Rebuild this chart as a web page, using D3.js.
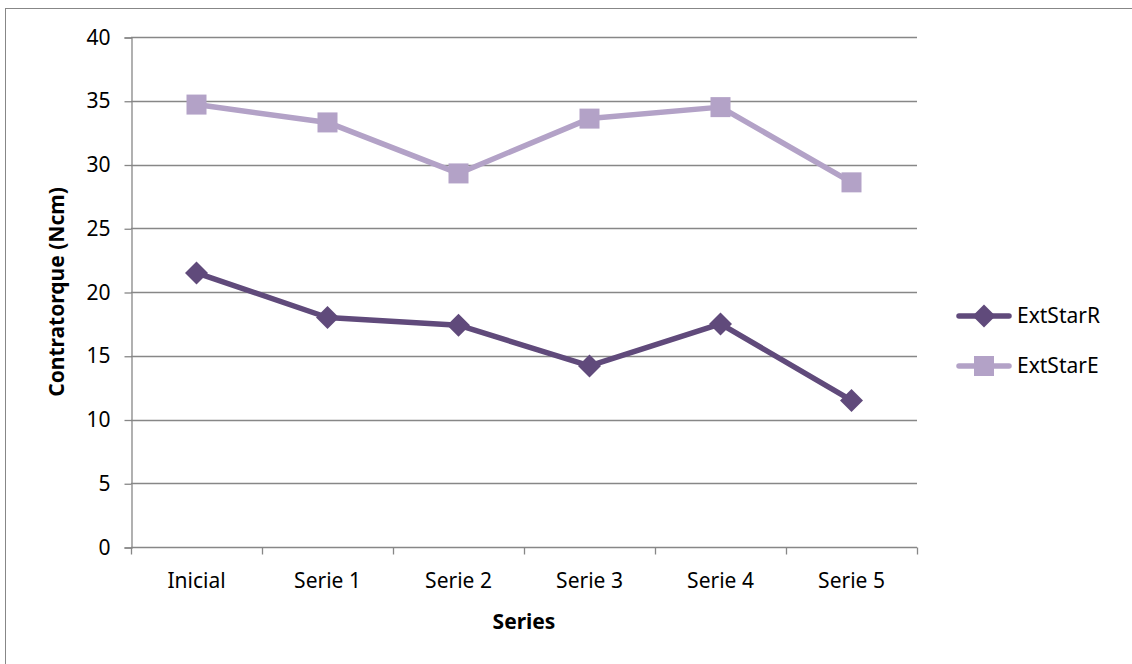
<html>
    <head>
        <meta charset="utf-8">
        <style>
            body { margin: 0; background: #fff; }
            text { font-family: "Noto Sans", sans-serif; fill: #000; }
        </style>
    </head>
    <body>
        <script src="https://d3js.org/d3.v7.min.js"></script>
        <div id="my_dataviz"></div>

        <script type='text/JavaScript'>
            var categories = ["Inicial", "Serie 1", "Serie 2", "Serie 3", "Serie 4", "Serie 5"];
            var extStarR = [21.5, 18.0, 17.4, 14.2, 17.5, 11.5];
            var extStarE = [34.7, 33.3, 29.3, 33.6, 34.5, 28.6];
            var yTicks = [0, 5, 10, 15, 20, 25, 30, 35, 40];

            var series = [
                {name: "ExtStarR", values: extStarR, color: "#604a7b", shape: "diamond"},
                {name: "ExtStarE", values: extStarE, color: "#b3a2c7", shape: "square"}
            ];

            var width = 1132, height = 664;
            var fs = "21px";
            var svg = d3.select("#my_dataviz").append("svg")
                .attr("width", width)
                .attr("height", height);

            // outer chart border (cropped on right/bottom in the original)
            svg.append("rect")
                .attr("x", 5.5).attr("y", 8.5)
                .attr("width", 1200).attr("height", 700)
                .attr("fill", "none")
                .attr("stroke", "#878787")
                .attr("stroke-width", 1);

            var xScale = d3.scaleBand().domain(categories).range([131, 917]);
            var yScale = d3.scaleLinear().domain([0, 40]).range([547, 37]);

            // gridlines
            svg.append("g")
                .selectAll("line")
                .data(yTicks.slice(1))
                .join("line")
                .attr("x1", 131).attr("x2", 917)
                .attr("y1", (d) => Math.round(yScale(d)) + 0.5)
                .attr("y2", (d) => Math.round(yScale(d)) + 0.5)
                .attr("stroke", "#878787")
                .attr("stroke-width", 1.3);

            // y axis
            var yAxis = d3.axisLeft(yScale)
                .tickValues(yTicks)
                .tickSize(7)
                .tickPadding(14);
            var yG = svg.append("g")
                .attr("transform", "translate(131.5, 0.5)")
                .call(yAxis);
            yG.attr("font-family", null).attr("font-size", null);
            yG.selectAll("text").style("font-size", fs);

            // x axis
            var xAxis = d3.axisBottom(xScale)
                .tickSize(0)
                .tickPadding(26);
            var xG = svg.append("g")
                .attr("transform", "translate(0, 547.5)")
                .call(xAxis);
            xG.attr("font-family", null).attr("font-size", null);
            xG.selectAll("text").style("font-size", fs);
            // category boundary ticks
            var bounds = categories.map((c) => xScale(c)).concat([xScale.range()[1]]);
            xG.selectAll(".bound")
                .data(bounds)
                .join("line")
                .attr("class", "bound")
                .attr("x1", (d) => Math.round(d) + 0.5)
                .attr("x2", (d) => Math.round(d) + 0.5)
                .attr("y1", 0).attr("y2", 7)
                .attr("stroke", "#878787");

            [yG, xG].forEach((g) => {
                g.selectAll(".domain, line").attr("stroke", "#878787").attr("stroke-width", 1.3);
            });
            xG.select(".domain").attr("d", "M131,0H917");

            // axis titles
            svg.append("text")
                .attr("x", 524).attr("y", 629)
                .attr("text-anchor", "middle")
                .style("font-size", fs)
                .style("font-weight", "bold")
                .text("Series");
            svg.append("text")
                .attr("transform", "translate(64, 292) rotate(-90)")
                .attr("text-anchor", "middle")
                .style("font-size", fs)
                .style("font-weight", "bold")
                .text("Contratorque (Ncm)");

            var cx = (i) => xScale(categories[i]) + xScale.bandwidth() / 2;
            var lineGen = d3.line()
                .x((d, i) => cx(i))
                .y((d) => yScale(d));

            function drawMarker(sel, s, x, y) {
                if (s.shape === "diamond") {
                    sel.append("path")
                        .attr("d", `M${x},${y - 11.5}L${x + 11.5},${y}L${x},${y + 11.5}L${x - 11.5},${y}Z`)
                        .attr("fill", s.color);
                } else {
                    sel.append("rect")
                        .attr("x", x - 10).attr("y", y - 10)
                        .attr("width", 20).attr("height", 20)
                        .attr("fill", s.color);
                }
            }

            series.forEach((s) => {
                var g = svg.append("g");
                g.append("path")
                    .datum(s.values)
                    .attr("d", lineGen)
                    .attr("fill", "none")
                    .attr("stroke", s.color)
                    .attr("stroke-width", 5.5)
                    .attr("stroke-linejoin", "round")
                    .attr("stroke-linecap", "round");
                s.values.forEach((v, i) => drawMarker(g, s, cx(i), yScale(v)));
            });

            // legend
            var legend = svg.append("g");
            series.forEach((s, i) => {
                var ly = 316 + i * 50;
                legend.append("line")
                    .attr("x1", 959).attr("x2", 1009)
                    .attr("y1", ly).attr("y2", ly)
                    .attr("stroke", s.color)
                    .attr("stroke-width", 5.5)
                    .attr("stroke-linecap", "round");
                drawMarker(legend, s, 984, ly);
                legend.append("text")
                    .attr("x", 1017).attr("y", ly + 7)
                    .style("font-size", fs)
                    .text(s.name);
            });
        </script>
    </body>
</html>
